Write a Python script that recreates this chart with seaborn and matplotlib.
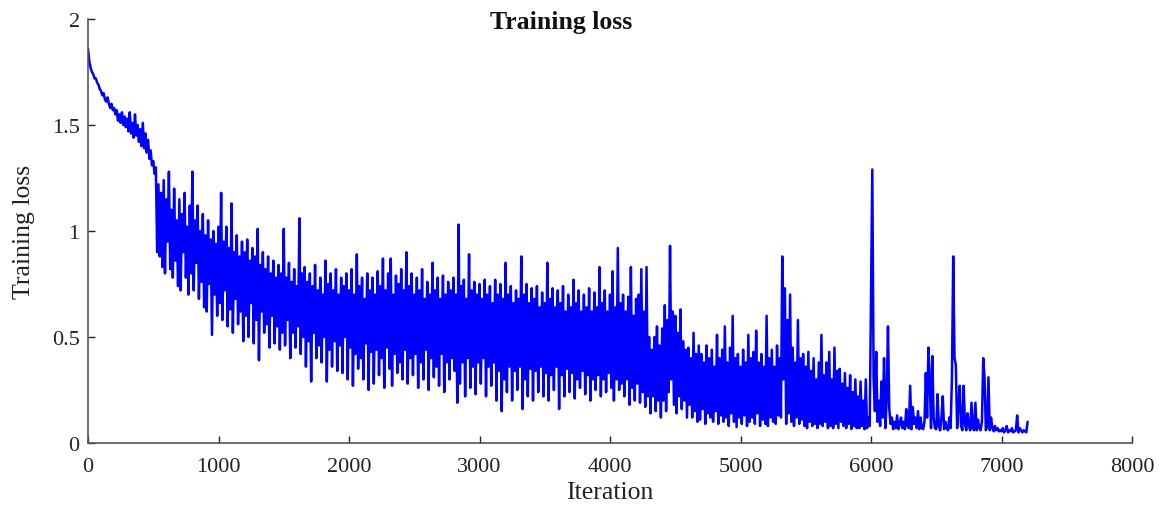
import numpy as np
import pandas as pd
import matplotlib
matplotlib.use("Agg")
import matplotlib.pyplot as plt
import seaborn as sns

# Training loss values, one every 10 iterations
loss_0_1800 = [
    1.86, 1.80, 1.77, 1.75, 1.74, 1.72, 1.72, 1.70, 1.69, 1.67,
    1.66, 1.64, 1.65, 1.62, 1.61, 1.63, 1.60, 1.58, 1.60, 1.57,
    1.58, 1.55, 1.57, 1.52, 1.55, 1.51, 1.56, 1.50, 1.54, 1.49,
    1.53, 1.47, 1.56, 1.46, 1.51, 1.44, 1.55, 1.45, 1.50, 1.42,
    1.48, 1.40, 1.51, 1.39, 1.46, 1.37, 1.43, 1.34, 1.38, 1.31,
    1.33, 1.27, 1.30, 0.90, 1.22, 0.88, 1.18, 0.83, 1.24, 0.80,
    1.15, 0.95, 1.28, 0.82, 1.10, 0.78, 1.20, 0.86, 1.05, 0.74,
    1.15, 0.72, 1.08, 0.90, 1.18, 0.78, 1.02, 0.70, 1.12, 0.80,
    1.28, 0.72, 1.05, 0.85, 1.12, 0.68, 1.00, 0.76, 1.08, 0.64,
    0.98, 0.62, 1.05, 0.75, 0.96, 0.51, 1.00, 0.70, 0.94, 0.60,
    1.02, 0.66, 1.18, 0.58, 0.95, 0.72, 1.02, 0.55, 0.92, 0.63,
    1.13, 0.52, 0.90, 0.68, 0.98, 0.56, 0.88, 0.62, 0.95, 0.48,
    0.90, 0.60, 0.96, 0.50, 0.86, 0.66, 0.92, 0.47, 0.88, 0.58,
    1.01, 0.39, 0.84, 0.62, 0.90, 0.52, 0.82, 0.56, 0.88, 0.45,
    0.80, 0.60, 0.86, 0.47, 0.78, 0.55, 0.84, 0.44, 0.80, 0.52,
    1.01, 0.46, 0.78, 0.58, 0.85, 0.40, 0.76, 0.52, 0.82, 0.45,
    0.74, 0.55, 1.06, 0.42, 0.80, 0.50, 0.83, 0.36, 0.76, 0.48,
    0.80, 0.29, 0.74, 0.52, 0.84, 0.40, 0.72, 0.46, 0.78, 0.38,
]
loss_1800_3600 = [
    0.70, 0.50, 0.86, 0.29, 0.75, 0.44, 0.80, 0.36, 0.72, 0.48,
    0.82, 0.34, 0.70, 0.46, 0.78, 0.33, 0.74, 0.50, 0.80, 0.30,
    0.72, 0.45, 0.82, 0.27, 0.70, 0.42, 0.89, 0.35, 0.74, 0.40,
    0.78, 0.30, 0.68, 0.47, 0.80, 0.25, 0.72, 0.43, 0.78, 0.28,
    0.70, 0.44, 0.81, 0.32, 0.74, 0.40, 0.87, 0.26, 0.72, 0.45,
    0.80, 0.35, 0.87, 0.27, 0.70, 0.42, 0.79, 0.33, 0.75, 0.38,
    0.82, 0.30, 0.72, 0.44, 0.90, 0.28, 0.74, 0.40, 0.80, 0.32,
    0.70, 0.42, 0.78, 0.26, 0.72, 0.38, 0.82, 0.30, 0.68, 0.44,
    0.76, 0.25, 0.70, 0.40, 0.85, 0.31, 0.72, 0.36, 0.78, 0.27,
    0.68, 0.42, 0.79, 0.24, 0.70, 0.38, 0.76, 0.30, 0.72, 0.40,
    0.78, 0.34, 0.70, 0.19, 1.03, 0.28, 0.74, 0.38, 0.77, 0.22,
    0.68, 0.40, 0.89, 0.26, 0.72, 0.36, 0.76, 0.23, 0.70, 0.38,
    0.75, 0.28, 0.68, 0.40, 0.77, 0.22, 0.70, 0.36, 0.74, 0.27,
    0.66, 0.38, 0.77, 0.20, 0.70, 0.34, 0.75, 0.15, 0.68, 0.30,
    0.85, 0.24, 0.70, 0.36, 0.74, 0.20, 0.66, 0.34, 0.72, 0.25,
    0.68, 0.36, 0.88, 0.16, 0.70, 0.30, 0.75, 0.22, 0.66, 0.35,
    0.73, 0.20, 0.68, 0.34, 0.74, 0.24, 0.64, 0.36, 0.71, 0.22,
    0.66, 0.33, 0.85, 0.20, 0.68, 0.32, 0.73, 0.25, 0.64, 0.36,
]
loss_3600_5400 = [
    0.72, 0.16, 0.66, 0.32, 0.74, 0.22, 0.62, 0.35, 0.70, 0.24,
    0.64, 0.33, 0.77, 0.21, 0.66, 0.30, 0.72, 0.26, 0.62, 0.34,
    0.70, 0.23, 0.64, 0.32, 0.73, 0.20, 0.62, 0.30, 0.71, 0.25,
    0.64, 0.32, 0.83, 0.22, 0.66, 0.30, 0.72, 0.24, 0.62, 0.33,
    0.70, 0.26, 0.81, 0.20, 0.64, 0.30, 0.92, 0.25, 0.66, 0.28,
    0.70, 0.22, 0.62, 0.30, 0.69, 0.18, 0.83, 0.26, 0.60, 0.20,
    0.68, 0.28, 0.70, 0.19, 0.82, 0.24, 0.62, 0.17, 0.83, 0.22,
    0.50, 0.14, 0.44, 0.22, 0.50, 0.15, 0.55, 0.20, 0.46, 0.12,
    0.54, 0.20, 0.65, 0.15, 0.58, 0.24, 0.93, 0.30, 0.62, 0.18,
    0.60, 0.14, 0.52, 0.22, 0.63, 0.16, 0.48, 0.20, 0.44, 0.12,
    0.45, 0.18, 0.40, 0.12, 0.52, 0.15, 0.42, 0.10, 0.46, 0.11,
    0.42, 0.16, 0.38, 0.09, 0.46, 0.14, 0.40, 0.12, 0.44, 0.10,
    0.36, 0.15, 0.51, 0.09, 0.40, 0.13, 0.44, 0.10, 0.55, 0.12,
    0.38, 0.08, 0.45, 0.14, 0.60, 0.10, 0.40, 0.075, 0.42, 0.12,
    0.36, 0.09, 0.44, 0.13, 0.38, 0.08, 0.51, 0.10, 0.40, 0.12,
    0.43, 0.09, 0.53, 0.14, 0.38, 0.08, 0.42, 0.11, 0.36, 0.09,
    0.60, 0.08, 0.40, 0.12, 0.44, 0.10, 0.36, 0.09, 0.46, 0.13,
    0.40, 0.12, 0.88, 0.30, 0.73, 0.09, 0.58, 0.14, 0.70, 0.10,
]
loss_5400_7200 = [
    0.45, 0.08, 0.38, 0.12, 0.58, 0.09, 0.40, 0.11, 0.42, 0.08,
    0.36, 0.07, 0.43, 0.10, 0.34, 0.08, 0.40, 0.09, 0.30, 0.07,
    0.38, 0.09, 0.51, 0.08, 0.32, 0.10, 0.38, 0.07, 0.43, 0.08,
    0.30, 0.07, 0.45, 0.09, 0.34, 0.07, 0.35, 0.10, 0.28, 0.08,
    0.33, 0.07, 0.26, 0.09, 0.32, 0.066, 0.24, 0.08, 0.30, 0.07,
    0.22, 0.07, 0.29, 0.08, 0.20, 0.065, 0.30, 0.07, 0.12, 0.08,
    0.69, 1.29, 0.30, 0.15, 0.43, 0.10, 0.20, 0.08, 0.29, 0.12,
    0.40, 0.07, 0.20, 0.55, 0.16, 0.09, 0.12, 0.065, 0.10, 0.07,
    0.13, 0.065, 0.09, 0.12, 0.07, 0.10, 0.065, 0.16, 0.08, 0.07,
    0.27, 0.065, 0.17, 0.09, 0.12, 0.07, 0.15, 0.065, 0.12, 0.07,
    0.065, 0.10, 0.33, 0.12, 0.45, 0.30, 0.07, 0.41, 0.12, 0.07,
    0.065, 0.23, 0.08, 0.06, 0.12, 0.22, 0.065, 0.10, 0.07, 0.06,
    0.12, 0.07, 0.30, 0.88, 0.40, 0.37, 0.07, 0.18, 0.27, 0.08,
    0.06, 0.27, 0.09, 0.06, 0.14, 0.08, 0.06, 0.19, 0.07, 0.06,
    0.19, 0.06, 0.11, 0.07, 0.06, 0.10, 0.40, 0.31, 0.06, 0.08,
    0.31, 0.06, 0.12, 0.07, 0.055, 0.08, 0.06, 0.07, 0.055, 0.06,
    0.055, 0.07, 0.05, 0.06, 0.08, 0.05, 0.06, 0.055, 0.07, 0.05,
    0.055, 0.06, 0.13, 0.05, 0.07, 0.06, 0.05, 0.06, 0.055, 0.05,
    0.10,
]
iteration_step = 10
x_ticks = [0, 1000, 2000, 3000, 4000, 5000, 6000, 7000, 8000]
y_ticks = [0, 0.5, 1, 1.5, 2]
y_tick_labels = ["0", "0.5", "1", "1.5", "2"]

loss = loss_0_1800 + loss_1800_3600 + loss_3600_5400 + loss_5400_7200
df = pd.DataFrame({"Iteration": np.arange(len(loss)) * iteration_step,
                   "Training loss": loss})

sns.set_style("ticks")
plt.rcParams["font.family"] = ["Liberation Serif", "DejaVu Serif"]
plt.rcParams["xtick.direction"] = "in"
plt.rcParams["ytick.direction"] = "in"

W, H = 1167, 510
fig = plt.figure(figsize=(W / 100, H / 100), dpi=100)
ax = fig.add_axes([88 / W, 66 / H, (1132 - 88) / W, (444 - 20) / H])

sns.lineplot(data=df, x="Iteration", y="Training loss", ax=ax,
             color="#0000ff", linewidth=1.8, estimator=None)

ax.set_xlim(0, 8000)
ax.set_ylim(0, 2)
ax.set_xticks(x_ticks)
ax.set_xticklabels([str(t) for t in x_ticks])
ax.set_yticks(y_ticks)
ax.set_yticklabels(y_tick_labels)
ax.tick_params(axis="both", labelsize=16, length=5, width=1, color="#222222",
               labelcolor="#222222")
ax.tick_params(axis="x", pad=10)
ax.tick_params(axis="y", pad=6)
for s in ["left", "bottom"]:
    ax.spines[s].set_color("#555555")
    ax.spines[s].set_linewidth(1.2)
sns.despine(ax=ax)

ax.set_xlabel("Iteration", fontsize=18.5, color="#222222", labelpad=4)
ax.set_ylabel("Training loss", fontsize=18.5, color="#222222", labelpad=12)
fig.text(561 / W, 1 - 22 / H, "Training loss", fontsize=18.5, fontweight="bold",
         color="#111111", ha="center", va="center")

fig.savefig("out.png", dpi=100)
